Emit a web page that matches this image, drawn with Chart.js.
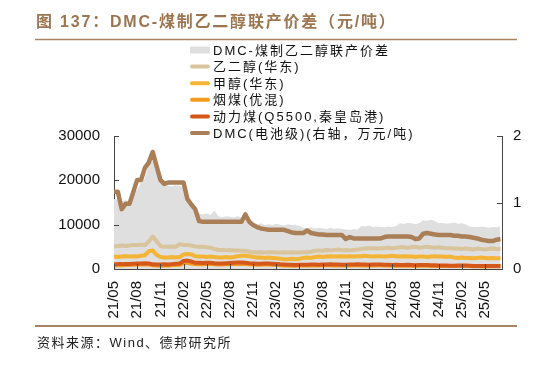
<!DOCTYPE html>
<html>
<head>
<meta charset="utf-8">
<script src="https://cdn.jsdelivr.net/npm/chart.js@4.4.1/dist/chart.umd.min.js"></script>
<style>
  html, body { margin: 0; padding: 0; background: #fff; }
  #wrap { width: 552px; height: 366px; position: relative; }
</style>
</head>
<body>
<div id="wrap"><canvas id="chart" width="552" height="366"></canvas></div>
<script>
// half-month sampling, 0 = 2021/05
const months = Array.from({ length: 101 }, (_, i) => i / 2);

const tickMonths = [0, 3, 6, 9, 12, 15, 18, 21, 24, 27, 30, 33, 36, 39, 42, 45, 48];
const tickLabels = ['21/05', '21/08', '21/11', '22/02', '22/05', '22/08', '22/11', '23/02', '23/05',
  '23/08', '23/11', '24/02', '24/05', '24/08', '24/11', '25/02', '25/05'];

const seriesNames = ['DMC-煤制乙二醇联产价差', '乙二醇(华东)', '甲醇(华东)', '烟煤(优混)',
  '动力煤(Q5500,秦皇岛港)', 'DMC(电池级)(右轴，万元/吨)'];

// 元/吨, left axis
const spread = [
  15800, 15600, 15300, 15500, 15200, 17200, 17800, 19500, 20500, 23400,
  24600, 22300, 19800, 19000, 18800, 18600, 18900, 18700, 18500, 16000,
  14500, 13800, 12600, 12300, 12500, 12200, 13200, 11900, 11700, 11900,
  11800, 11600, 11900, 11700, 11800, 10600, 10200, 10000, 10300, 9900,
  10100, 9900, 10200, 10000, 9800, 10100, 9900, 10000, 9700, 9300,
  9200, 9400, 9100, 9300, 9200, 9000, 9300, 9100, 9200, 9000,
  8900, 8800, 9000, 8900, 9700, 9600, 9800, 9500, 9600, 9500,
  9400, 9600, 9500, 9700, 10300, 10200, 10400, 10300, 10100, 10400,
  11000, 10900, 11100, 10800, 10300, 10400, 10200, 10300, 10500, 10200,
  10300, 10100, 9600, 9500, 9400, 9600, 9500, 9300, 9500, 9400,
  9600
];

const meg = [
  5100, 5200, 5300, 5200, 5300, 5400, 5400, 5500, 5400, 6200,
  7300, 6300, 5200, 5000, 5000, 5100, 5000, 5600, 5400, 5400,
  5300, 5100, 5000, 5000, 4900, 4800, 4500, 4300, 4300, 4200,
  4300, 4200, 4200, 4100, 4100, 3900, 3800, 3700, 3800, 3700,
  3800, 3800, 3700, 3700, 3800, 3700, 3800, 3700, 3700, 3800,
  3800, 3900, 4100, 4200, 4100, 4300, 4200, 4300, 4400, 4200,
  4300, 4200, 4300, 4400, 4500, 4600, 4700, 4700, 4600, 4700,
  4700, 4800, 4700, 4800, 4900, 4900, 4800, 4900, 5000, 4800,
  4900, 5000, 4900, 4800, 4900, 4800, 4700, 4700, 4600, 4600,
  4500, 4600, 4500, 4400, 4600, 4500, 4400, 4500, 4600, 4500,
  4500
];

const methanol = [
  2800, 2700, 2800, 2900, 2800, 2900, 2800, 3000, 3100, 4000,
  4200, 3200, 2700, 2600, 2600, 2700, 2600, 2700, 3300, 3400,
  3300, 2900, 2800, 2800, 2700, 2800, 2700, 2600, 2600, 2700,
  2600, 2700, 2900, 3000, 3000, 2900, 2700, 2600, 2600, 2500,
  2600, 2500, 2400, 2300, 2200, 2200, 2300, 2200, 2300, 2500,
  2600, 2500, 2700, 2800, 2700, 2800, 2900, 2800, 2800, 2900,
  2800, 2900, 2800, 2900, 2900, 3000, 2900, 2800, 2900, 2900,
  2800, 2900, 3000, 2900, 2800, 2900, 2800, 2800, 2700, 2800,
  2800, 2700, 2800, 2900, 2800, 2800, 2700, 2800, 2600, 2500,
  2600, 2500, 2500, 2400, 2500, 2600, 2500, 2400, 2500, 2400,
  2400
];

const bitCoal = [
  800, 850, 850, 900, 900, 950, 1000, 1000, 1050, 1000,
  850, 800, 750, 800, 800, 850, 900, 950, 1300, 1400,
  1250, 1100, 1050, 1050, 1100, 1100, 1050, 1000, 1000, 1050,
  1050, 1100, 1150, 1150, 1100, 1050, 1000, 950, 950, 1000,
  1000, 950, 900, 850, 800, 800, 750, 750, 800, 800,
  800, 800, 850, 800, 850, 850, 850, 800, 800, 800,
  800, 800, 850, 850, 800, 800, 800, 800, 850, 850,
  800, 800, 750, 800, 750, 750, 800, 750, 700, 750,
  750, 750, 700, 700, 700, 700, 650, 650, 650, 700,
  700, 650, 650, 600, 600, 600, 550, 600, 600, 600,
  600
];

const thermalCoal = [
  1050, 1100, 1100, 1150, 1150, 1200, 1250, 1250, 1300, 1250,
  1050, 1000, 1000, 1050, 1000, 1100, 1200, 1250, 1800, 1900,
  1700, 1400, 1400, 1350, 1400, 1400, 1300, 1250, 1250, 1300,
  1350, 1400, 1450, 1450, 1400, 1300, 1250, 1200, 1200, 1250,
  1250, 1200, 1150, 1050, 1000, 950, 950, 900, 950, 950,
  950, 1000, 1000, 950, 1000, 1000, 1050, 1000, 1000, 950,
  950, 1000, 1000, 1050, 1000, 1000, 950, 1000, 1000, 1000,
  950, 950, 900, 950, 900, 900, 950, 900, 850, 900,
  900, 900, 850, 850, 800, 800, 800, 750, 750, 800,
  800, 800, 750, 700, 700, 650, 650, 700, 700, 700,
  700
];

// 万元/吨, right axis
const dmc = [
  1.16, 1.16, 0.90, 0.98, 0.98, 1.16, 1.34, 1.34, 1.52, 1.60,
  1.76, 1.55, 1.34, 1.28, 1.30, 1.30, 1.30, 1.30, 1.30, 1.05,
  0.97, 0.90, 0.72, 0.71, 0.71, 0.71, 0.71, 0.71, 0.71, 0.71,
  0.71, 0.71, 0.71, 0.71, 0.82, 0.71, 0.66, 0.63, 0.61, 0.60,
  0.59, 0.59, 0.59, 0.59, 0.59, 0.57, 0.55, 0.54, 0.54, 0.54,
  0.58, 0.54, 0.53, 0.52, 0.52, 0.51, 0.51, 0.51, 0.51, 0.51,
  0.45, 0.48, 0.46, 0.46, 0.46, 0.46, 0.46, 0.46, 0.46, 0.46,
  0.48, 0.49, 0.49, 0.49, 0.49, 0.49, 0.49, 0.48, 0.45, 0.46,
  0.53, 0.54, 0.53, 0.52, 0.51, 0.51, 0.51, 0.51, 0.50, 0.50,
  0.49, 0.49, 0.48, 0.47, 0.46, 0.44, 0.43, 0.42, 0.42, 0.44,
  0.45
];

const colors = ['#dfdfdf', '#d8c49d', '#f4b536', '#f39b1e', '#d5581a', '#aa7f57'];

const pts = arr => arr.map((v, i) => ({ x: months[i], y: v }));
const FONT = "'Liberation Sans', 'Noto Sans CJK SC', sans-serif";

function lineSet(i, data, axis, order, width) {
  return {
    label: seriesNames[i], data: pts(data), yAxisID: axis, order: order,
    borderColor: colors[i], borderWidth: width, pointRadius: 0,
    fill: false, tension: 0, borderJoinStyle: 'round', borderCapStyle: 'butt'
  };
}

const decor = {
  id: 'decor',
  afterDraw(chart) {
    const ctx = chart.ctx;
    ctx.save();
    // title
    ctx.fillStyle = '#9c7651';
    ctx.font = "bold 16px " + FONT;
    ctx.letterSpacing = '1.8px';
    ctx.textBaseline = 'alphabetic';
    ctx.textAlign = 'left';
    ctx.fillText('图 137：DMC-煤制乙二醇联产价差（元/吨）', 36, 27);
    ctx.strokeStyle = '#a88462';
    ctx.lineWidth = 1.5;
    ctx.beginPath(); ctx.moveTo(35, 39.5); ctx.lineTo(517, 39.5); ctx.stroke();
    ctx.lineWidth = 2;
    ctx.beginPath(); ctx.moveTo(35, 326); ctx.lineTo(517, 326); ctx.stroke();

    // source
    ctx.fillStyle = '#222';
    ctx.font = "13px " + FONT;
    ctx.letterSpacing = '1.5px';
    ctx.textBaseline = 'middle';
    ctx.fillText('资料来源：Wind、德邦研究所', 37, 343);

    // legend
    ctx.font = "13px " + FONT;
    ctx.letterSpacing = '2px';
    chart.data.datasets.forEach((ds, i) => {
      const y = 50 + i * 16.6;
      if (i === 0) {
        ctx.fillStyle = colors[0];
        ctx.fillRect(190, y - 3.5, 20, 7);
      } else {
        ctx.strokeStyle = colors[i];
        ctx.lineWidth = 4;
        ctx.lineCap = 'round';
        ctx.beginPath(); ctx.moveTo(192, y); ctx.lineTo(208, y); ctx.stroke();
      }
      ctx.fillStyle = '#111';
      ctx.fillText(ds.label, 213, y + 1);
    });
    ctx.letterSpacing = '0px';

    // inward tick marks
    const { x, y, y1 } = chart.scales;
    ctx.strokeStyle = '#444';
    ctx.lineWidth = 1;
    ctx.lineCap = 'butt';
    ctx.beginPath();
    y.ticks.forEach(t => { const p = Math.round(y.getPixelForValue(t.value)) + 0.5; ctx.moveTo(x.left, p); ctx.lineTo(x.left + 5, p); });
    y1.ticks.forEach(t => { const p = Math.round(y1.getPixelForValue(t.value)) + 0.5; ctx.moveTo(x.right, p); ctx.lineTo(x.right - 5, p); });
    x.ticks.forEach(t => { const p = Math.round(x.getPixelForValue(t.value)) + 0.5; ctx.moveTo(p, y.bottom); ctx.lineTo(p, y.bottom - 5); });
    ctx.stroke();
    ctx.restore();
  }
};

new Chart(document.getElementById('chart'), {
  type: 'line',
  data: {
    datasets: [
      {
        label: seriesNames[0], data: pts(spread), yAxisID: 'y', order: 5,
        borderWidth: 0, pointRadius: 0, fill: 'origin', backgroundColor: colors[0], tension: 0
      },
      lineSet(1, meg, 'y', 4, 4),
      lineSet(2, methanol, 'y', 3, 4),
      lineSet(3, bitCoal, 'y', 2, 4),
      lineSet(4, thermalCoal, 'y', 1, 4),
      lineSet(5, dmc, 'y1', 0, 4.5)
    ]
  },
  options: {
    responsive: false,
    animation: false,
    events: [],
    layout: { padding: { top: 136, left: 0, right: 0, bottom: 0 } },
    plugins: { legend: { display: false }, tooltip: { enabled: false } },
    scales: {
      x: {
        type: 'linear', min: 0, max: 50.2,
        afterBuildTicks: s => { s.ticks = tickMonths.map(v => ({ value: v })); },
        afterFit: s => { s.height = 97; },
        grid: { display: false, drawTicks: false },
        border: { display: true, color: '#444', width: 1 },
        ticks: {
          autoSkip: false, minRotation: 90, maxRotation: 90, padding: 12,
          color: '#111', font: { family: FONT, size: 15 },
          callback: (v, i) => tickLabels[i]
        }
      },
      y: {
        position: 'left', min: 0, max: 30000,
        afterFit: s => { s.width = 114; },
        grid: { display: false, drawTicks: false },
        border: { display: true, color: '#444', width: 1 },
        ticks: {
          stepSize: 10000, padding: 14, color: '#111', font: { family: FONT, size: 15 },
          callback: v => String(v)
        }
      },
      y1: {
        position: 'right', min: 0, max: 2,
        afterFit: s => { s.width = 50; },
        grid: { display: false, drawTicks: false },
        border: { display: true, color: '#444', width: 1 },
        ticks: {
          stepSize: 1, padding: 11, color: '#111', font: { family: FONT, size: 15 },
          callback: v => String(v)
        }
      }
    }
  },
  plugins: [decor]
});
</script>
</body>
</html>
